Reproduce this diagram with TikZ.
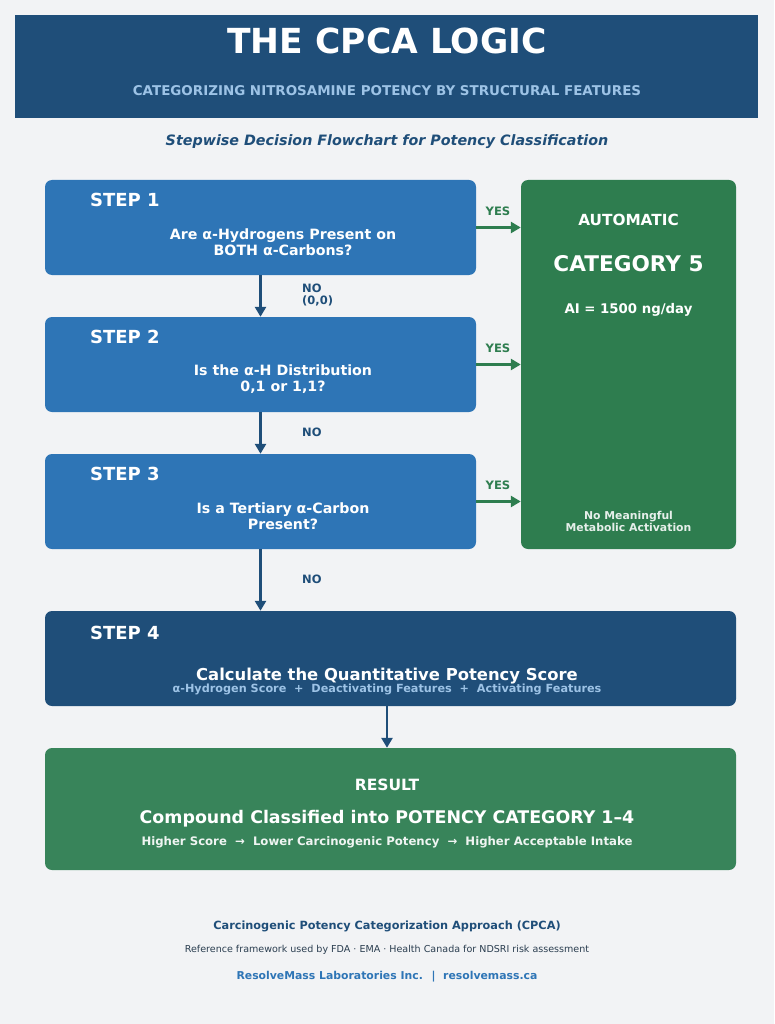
\documentclass[tikz,border=0pt]{standalone}
\usepackage{fontspec}
\setmainfont{DejaVu Sans}
\usetikzlibrary{arrows.meta}
\definecolor{bg}{HTML}{F2F3F5}
\definecolor{navy}{HTML}{1F4E79}
\definecolor{stepblue}{HTML}{2E75B6}
\definecolor{catgreen}{HTML}{2E7D4F}
\definecolor{resgreen}{HTML}{38845A}
\definecolor{lightblue}{HTML}{9DC3E6}
\definecolor{footgray}{HTML}{2B3E50}
\newcommand{\fs}[1]{\fontsize{#1}{#1}\selectfont}
\tikzset{
  box/.style={rounded corners=7pt, draw=none},
  txt/.style={inner sep=0pt, text=white, font=\bfseries, align=center},
  yesarrow/.style={draw=catgreen, line width=3pt, -{Triangle[length=10pt,width=11pt]}},
  noarrow/.style={draw=navy, line width=2.5pt, -{Triangle[length=10pt,width=11pt]}},
  yeslbl/.style={inner sep=0pt, text=catgreen, font=\bfseries\fs{11.6}},
  nolbl/.style={inner sep=0pt, text=navy, font=\bfseries\fs{11.5}, align=left, anchor=west},
}
\begin{document}
\begin{tikzpicture}[x=1pt,y=-1pt]
\fill[bg] (0,0) rectangle (774,1024);
\useasboundingbox (0,0) rectangle (774,1024);
% header
\fill[navy] (15,15) rectangle (758,118);
\node[txt, font=\bfseries\fs{34.5}] (title) at (387,41) {THE CPCA LOGIC};
\node[txt, text=lightblue, font=\bfseries\fs{13.45}] (subtitle) at (387,91) {CATEGORIZING NITROSAMINE POTENCY BY STRUCTURAL FEATURES};
\node[txt, text=navy, font=\bfseries\itshape\fs{14.3}] (stepwise) at (387,141.5) {Stepwise Decision Flowchart for Potency Classification};
% boxes
\fill[box, stepblue] (45,180) rectangle (476,275);
\fill[box, stepblue] (45,317) rectangle (476,412);
\fill[box, stepblue] (45,454) rectangle (476,549);
\fill[box, catgreen] (521,180) rectangle (736,549);
\fill[box, navy] (45,611) rectangle (736,706);
\fill[box, resgreen] (45,748) rectangle (736,870);
% invisible named nodes for connectors
\node[inner sep=0pt, minimum width=431pt, minimum height=95pt] (step1) at (260.5,227.5) {};
\node[inner sep=0pt, minimum width=431pt, minimum height=95pt] (step2) at (260.5,364.5) {};
\node[inner sep=0pt, minimum width=431pt, minimum height=95pt] (step3) at (260.5,501.5) {};
\node[inner sep=0pt, minimum width=215pt, minimum height=369pt] (cat5) at (628.5,364.5) {};
\node[inner sep=0pt, minimum width=691pt, minimum height=95pt] (step4) at (390.5,658.5) {};
\node[inner sep=0pt, minimum width=691pt, minimum height=122pt] (result) at (390.5,809) {};
% step texts
\node[txt, anchor=west, font=\bfseries\fs{18}] (st1) at (90,200) {STEP 1};
\node[txt, font=\bfseries\fs{14.2}] (q1) at (283,242) {Are α-Hydrogens Present on\\[1.5pt]BOTH α-Carbons?};
\node[txt, anchor=west, font=\bfseries\fs{18}] (st2) at (90,337) {STEP 2};
\node[txt, font=\bfseries\fs{14.2}] (q2) at (283,379) {Is the α-H Distribution\\[1.5pt]0,1 or 1,1?};
\node[txt, anchor=west, font=\bfseries\fs{18}] (st3) at (90,474) {STEP 3};
\node[txt, font=\bfseries\fs{14.2}] (q3) at (283,516) {Is a Tertiary α-Carbon\\[1.5pt]Present?};
\node[txt, anchor=west, font=\bfseries\fs{18}] (st4) at (90,633) {STEP 4};
\node[txt, font=\bfseries\fs{16.4}] (calc) at (387,676.5) {Calculate the Quantitative Potency Score};
\node[txt, text=lightblue, font=\bfseries\fs{11.25}] (calcsub) at (387,689) {α-Hydrogen Score \ +\ \ Deactivating Features \ +\ \ Activating Features};
% category 5
\node[txt, font=\bfseries\fs{15.3}] (auto) at (628.5,219.5) {AUTOMATIC};
\node[txt, font=\bfseries\fs{21.6}] (cat) at (628.5,264) {CATEGORY 5};
\node[txt, font=\bfseries\fs{13.3}] (ai) at (628.5,309.5) {AI = 1500 ng/day};
\node[txt, text=white!88!catgreen, font=\bfseries\fs{10.85}] (nometa) at (628.5,521.5) {No Meaningful\\[1pt]Metabolic Activation};
% result
\node[txt, font=\bfseries\fs{15.5}] (res) at (387,785) {RESULT};
\node[txt, font=\bfseries\fs{17.4}] (comp) at (387,819) {Compound Classified into POTENCY CATEGORY 1–4};
\node[txt, text=white!92!resgreen, font=\bfseries\fs{11.7}] (higher) at (387,842) {Higher Score \ →\ \ Lower Carcinogenic Potency \ →\ \ Higher Acceptable Intake};
% connectors
\draw[yesarrow] (step1.east) -- (step1.east -| cat5.west);
\draw[yesarrow] (step2.east) -- (step2.east -| cat5.west);
\draw[yesarrow] (step3.east) -- (step3.east -| cat5.west);
\node[yeslbl] (y1) at (498,211) {YES};
\node[yeslbl] (y2) at (498,348) {YES};
\node[yeslbl] (y3) at (498,485) {YES};
\draw[noarrow] (step1.south) -- (step2.north);
\draw[noarrow] (step2.south) -- (step3.north);
\draw[noarrow] (step3.south) -- (step3.south |- step4.north);
\draw[noarrow] (step4.south -| 387,0) -- (result.north -| 387,0);
\node[nolbl] (n1) at (302,295) {NO\\[1pt](0,0)};
\node[nolbl] (n2) at (302,432) {NO};
\node[nolbl] (n3) at (302,579) {NO};
% footer
\node[txt, text=navy, font=\bfseries\fs{11.3}] (f1) at (387,926.5) {Carcinogenic Potency Categorization Approach (CPCA)};
\node[txt, text=footgray, font=\fs{9.55}] (f2) at (387,949.5) {Reference framework used by FDA · EMA · Health Canada for NDSRI risk assessment};
\node[txt, text=stepblue, font=\bfseries\fs{10.85}] (f3) at (387,976.5) {ResolveMass Laboratories Inc. \ |\ \ resolvemass.ca};
\end{tikzpicture}
\end{document}
